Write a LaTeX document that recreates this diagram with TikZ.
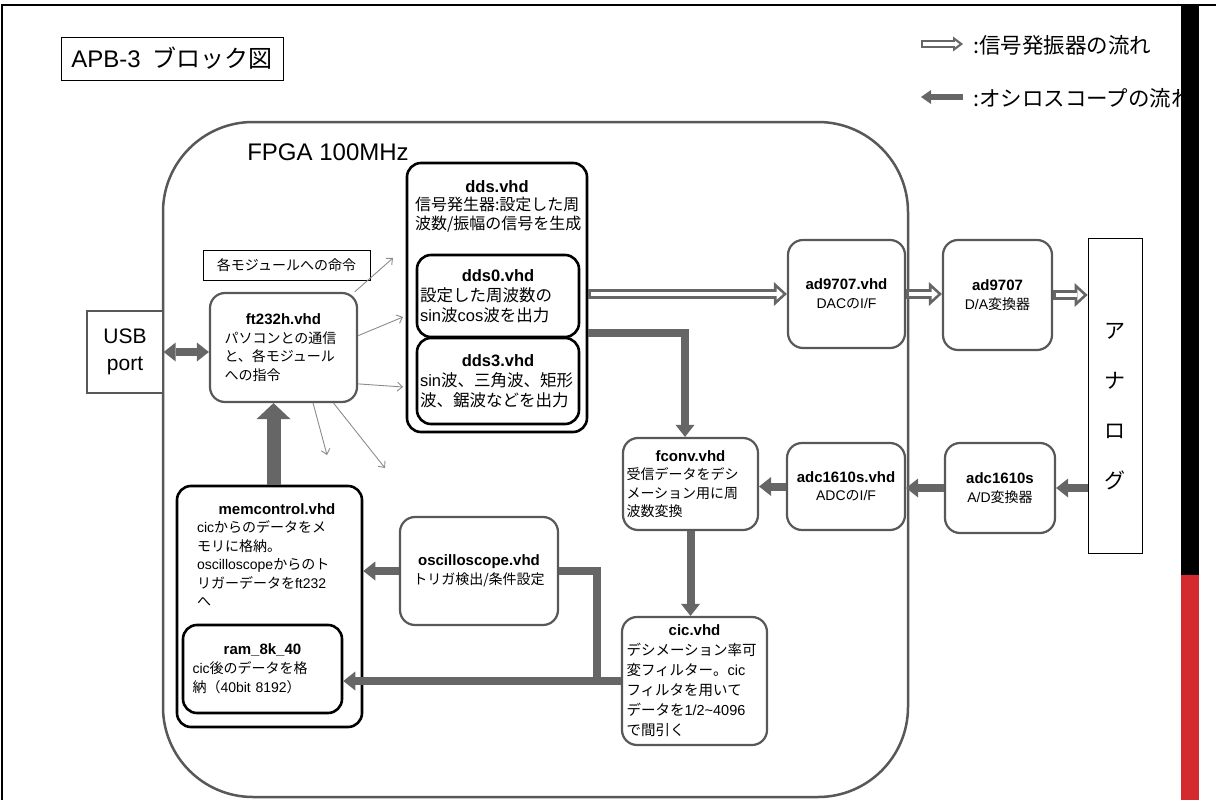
\documentclass[tikz,border=0pt]{standalone}
\usepackage{fontspec}
\setmainfont{Noto Sans CJK JP}
\newfontfamily\lat{Liberation Sans}
\usepackage{tikz}
\usetikzlibrary{positioning}
\usetikzlibrary{arrows.meta}

\definecolor{boxgray}{RGB}{88,88,88}
\definecolor{arrgray}{RGB}{102,102,102}
\definecolor{thingray}{RGB}{140,140,140}
\definecolor{barred}{RGB}{212,41,47}

\newcommand{\bodyfont}{\fontsize{14}{18.5}\selectfont}
\newcommand{\la}[1]{{\lat #1}}
\newcommand{\hd}[1]{{\lat\bfseries\fontsize{15}{18}\selectfont #1}}
\newcommand{\hdc}[2][15]{\makebox[\linewidth]{\lat\bfseries\fontsize{#1}{18}\selectfont #2}}

\begin{document}
\begin{tikzpicture}[x=1pt,y=-1pt]
    \tikzset{
    mod/.style={draw=boxgray, line width=2.2pt, rounded corners=15pt, fill=white},
    blk/.style={draw=black, line width=2.6pt, rounded corners=14pt, fill=white},
    lbox/.style={draw=black, line width=0.8pt, fill=white},
    txt/.style={align=left, inner sep=0pt, font=\bodyfont},
    ctr/.style={align=center, inner sep=0pt, font=\bodyfont},
    hollow/.style={draw=arrgray, line width=10pt, -{Triangle[width=24pt,length=13pt,line width=0pt]},
        postaction={draw=white, line width=4.5pt, shorten >=4pt, shorten <=2.7pt, -{Triangle[width=11.4pt,length=6.2pt,line width=0pt]}}},
    hollowS/.style={draw=arrgray, line width=8pt, -{Triangle[width=15pt,length=10pt,line width=0pt]},
        postaction={draw=white, line width=3.6pt, shorten >=3.7pt, shorten <=2.2pt, -{Triangle[width=6.2pt,length=4.1pt,line width=0pt]}}},
    fat/.style={draw=arrgray, line width=8pt, -{Triangle[width=19pt,length=12pt,line width=0pt]}},
    fatline/.style={draw=arrgray, line width=8pt},
    cmdarrow/.style={draw=thingray, line width=0.9pt, -{Straight Barb[length=5pt,width=9pt]}}
    }
    \useasboundingbox (0,0) rectangle (1216,800);

    % frame and title
    \draw[line width=2pt] (2,800) -- (2,5) -- (1216,5);
    \node (title)[lbox, minimum width=222, minimum height=43, font=\fontsize{24}{28}\selectfont] at (172,58.5) {\la{APB-3}\hspace{12pt}ブロック図};

    % legend
    \coordinate (h1) at (921,44);
    \coordinate (h2) at (963,44);
    \coordinate (f1) at (921,97);
    \coordinate (f2) at (963,97);
    \draw[hollowS] (h1) -- (h2);
    \draw[fat, line width=5pt, -{Triangle[width=14pt,length=10pt,line width=0pt]}] (f2) -- (f1);
    \node (lg1)[anchor=west, inner sep=0pt, font=\fontsize{21.5}{24}\selectfont] at (973,45) {:信号発振器の流れ};
    \node (lg2)[anchor=west, inner sep=0pt, font=\fontsize{21.5}{24}\selectfont] at (973,98) {:オシロスコープの流れ};

    % FPGA
    \node (fpga)[draw=boxgray, line width=2.5pt, rounded corners=90pt, minimum width=745, minimum height=675] at (535.5,459.5) {};
    \node (fpgalbl)[inner sep=0pt, font=\lat\fontsize{24}{28}\selectfont] at (328,152) {FPGA 100MHz};

    \node (usb)[draw=boxgray, line width=1.4pt, fill=white, minimum width=76, minimum height=82, align=center, font=\lat\fontsize{21}{27}\selectfont] at (125,352) {USB\\port};
    \node (cmd)[lbox, minimum width=167, minimum height=30, font=\bodyfont] at (286.5,265) {各モジュールへの命令};
    \node (ft)[mod, txt, minimum width=147, minimum height=109, text width=118] at (283.5,347.5) {\hdc{ft232h.vhd}\\パソコンとの通信\\と、各モジュール\\への指令};

    % dds
    \node (dds)[blk, minimum width=180, minimum height=269] at (497,297.5) {};
    \node (ddstxt)[txt, text width=164, anchor=north, font=\fontsize{16}{18.5}\selectfont] at (497,180) {\hdc[16.5]{dds.vhd}\\信号発生器:設定した周\\波数/振幅の信号を生成};
    \node (dds0)[blk, txt, minimum width=162, minimum height=82, text width=156, font=\fontsize{16.5}{20}\selectfont] at (498,296) {\hdc[16.5]{dds0.vhd}\\設定した周波数の\\\la{sin}波\la{cos}波を出力};
    \node (dds3)[blk, txt, minimum width=162, minimum height=86, text width=156, font=\fontsize{16.5}{20}\selectfont] at (498,381) {\hdc[16.5]{dds3.vhd}\\\la{sin}波、三角波、矩形\\波、鋸波などを出力};

    % DAC side
    \node (adv)[mod, ctr, minimum width=117, minimum height=108] at (846.5,294) {\hd{ad9707.vhd}\\\la{DAC}の\la{I/F}};
    \node (da)[mod, ctr, minimum width=109, minimum height=110] at (997.5,295) {\hd{ad9707}\\\la{D/A}変換器};
    \node (ana)[draw=black, line width=0.8pt, minimum width=54, minimum height=315] at (1115,395.5) {};
    \node (anatxt)[ctr, font=\fontsize{21}{50}\selectfont] at (1115,407) {ア\\ナ\\ロ\\グ};

    % ADC side
    \node (ad)[mod, ctr, minimum width=110, minimum height=90] at (1000,488) {\hd{adc1610s}\\\la{A/D}変換器};
    \node (adcv)[mod, ctr, minimum width=118, minimum height=87] at (846,486.5) {\hd{adc1610s.vhd}\\\la{ADC}の\la{I/F}};
    \node (fconv)[mod, txt, minimum width=135, minimum height=92, text width=128] at (690.5,484) {\hdc{fconv.vhd}\\受信データをデシ\\メーション用に周\\波数変換};
    \node (cic)[mod, txt, minimum width=145, minimum height=128, text width=136, font=\fontsize{14.5}{20}\selectfont] at (694.5,681) {\hdc{cic.vhd}\\デシメーション率可\\変フィルター。\la{cic}\\フィルタを用いて\\データを\la{1/2\textasciitilde4096}\\で間引く};
    \node (osc)[mod, ctr, minimum width=158, minimum height=108] at (479,571) {\hd{oscilloscope.vhd}\\トリガ検出/条件設定};

    % memory
    \node (mem)[blk, minimum width=185, minimum height=241] at (269.5,606.5) {};
    \node (memtxt)[txt, text width=160, anchor=north] at (277,503) {\hdc{memcontrol.vhd}\\\la{cic}からのデータをメ\\モリに格納。\\\la{oscilloscope}からのト\\リガーデータを\la{ft232}\\へ};
    \node (ram)[blk, txt, minimum width=159, minimum height=88, text width=140, font=\fontsize{14}{19}\selectfont] at (262.5,669) {\hdc{ram\_8k\_40}\\\la{cic}後のデータを格\\納（\la{40bit 8192}）};

    % commands from ft232h
    \coordinate (c1) at (393,258);
    \coordinate (c2) at (403,317);
    \coordinate (c3) at (403,387);
    \coordinate (c4) at (327,455);
    \coordinate (c5) at (385,468);
    \draw[cmdarrow] (ft.38) -- (c1);
    \draw[cmdarrow] (ft.9) -- (c2);
    \draw[cmdarrow] (ft.-26) -- (c3);
    \draw[cmdarrow] (ft.-62) -- (c4);
    \draw[cmdarrow] (ft.-48) -- (c5);

    % signal generator flow
    \draw[hollow] (dds.east |- adv.west) -- (adv.west);
    \draw[hollow] (adv.east) -- (da.west |- adv.east);
    \draw[hollow] (da.east) -- (ana.west |- da.east);

    % oscilloscope flow
    \coordinate (bend) at (685,333);
    \coordinate (jn) at (597,681);
    \coordinate (up) at ([xshift=-10pt]ft.south);
    \draw[fat, {Triangle[width=19pt,length=12pt,line width=0pt]}-{Triangle[width=19pt,length=12pt,line width=0pt]}] (usb.east) -- (ft.west |- usb.east);
    \draw[fat] (ana.west |- ad.east) -- (ad.east);
    \draw[fat] (ad.west) -- (adcv.east |- ad.west);
    \draw[fat] (adcv.west) -- (fconv.east |- adcv.west);
    \draw[fat] (dds.east |- bend) -- (bend) -- (bend |- fconv.north);
    \draw[fat] (fconv.south) -- (fconv.south |- cic.north);
    \draw[fat] (cic.west) -- (ram.east |- cic.west);
    \draw[fatline] (jn) |- (osc.east);
    \draw[fat] (osc.west) -- (mem.east |- osc.west);
    \draw[fat, line width=14pt, -{Triangle[width=34pt,length=16pt,line width=0pt]}] (mem.north -| up) -- (up);

    % side bar
    \fill[black] (1181,5) rectangle (1199,575);
    \fill[barred] (1181,575) rectangle (1199,800);
\end{tikzpicture}
\end{document}
